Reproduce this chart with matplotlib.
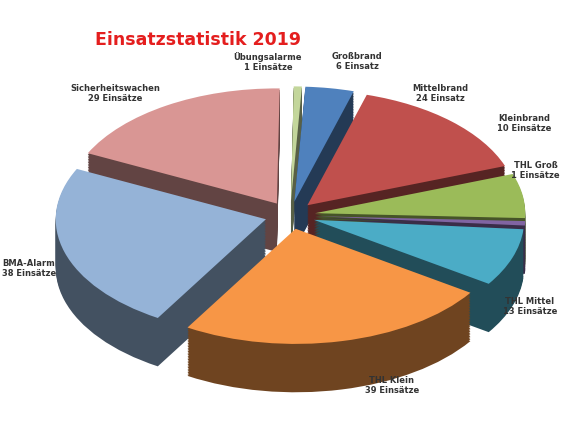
import matplotlib.pyplot as plt
import numpy as np

# Daten
labels = ["Großbrand\n6 Einsatz", "Mittelbrand\n24 Einsatz", "Kleinbrand\n10 Einsätze",
          "THL Groß\n1 Einsätze", "THL Mittel\n13 Einsätze", "THL Klein\n39 Einsätze",
          "BMA-Alarm\n38 Einsätze", "Sicherheitswachen\n29 Einsätze", "Übungsalarme\n1 Einsätze"]
values = [6, 24, 10, 1, 13, 39, 38, 29, 1]
colors = ["#4F81BD", "#C0504D", "#9BBB59", "#8064A2", "#4BACC6",
          "#F79646", "#95B3D7", "#D99694", "#C3D69B"]
explode = [0.12, 0.12, 0.12, 0.12, 0.12, 0.12, 0.12, 0.12, 0.12]

# Beschriftungspositionen (Figurkoordinaten)
label_pos = [(0.62, 0.855), (0.765, 0.78), (0.91, 0.71), (0.93, 0.60), (0.92, 0.28),
             (0.68, 0.095), (0.05, 0.37), (0.20, 0.78), (0.465, 0.855)]


def darker(c, f=0.45):
    rgb = np.array(plt.matplotlib.colors.to_rgb(c))
    return tuple(rgb * f)


fig = plt.figure(figsize=(5.76, 4.26), dpi=100)
ax = fig.add_axes([0.0, 0.0, 1.0, 1.0])

depth = 0.42
steps = 30
for i in range(steps, 0, -1):
    d = depth * i / steps
    ax.pie(values, explode=explode, colors=[darker(c) for c in colors],
           startangle=87, counterclock=False, radius=1.0, center=(0, -d),
           wedgeprops=dict(linewidth=0))
wedges, _ = ax.pie(values, explode=explode, colors=colors, startangle=87,
                   counterclock=False, radius=1.0, center=(0, 0),
                   wedgeprops=dict(linewidth=0))

ax.set_aspect("auto")
ax.set_xlim(-1.38, 1.36)
ax.set_ylim(-1.83, 1.87)
ax.axis("off")

for txt, (x, y) in zip(labels, label_pos):
    fig.text(x, y, txt, ha="center", va="center", fontsize=6, fontweight="bold",
             color="#333333", linespacing=1.2)

fig.text(0.165, 0.905, "Einsatzstatistik 2019", fontsize=12.5, fontweight="bold",
         color="#E41E1E", ha="left", va="center")

fig.savefig("out.png", dpi=100)
